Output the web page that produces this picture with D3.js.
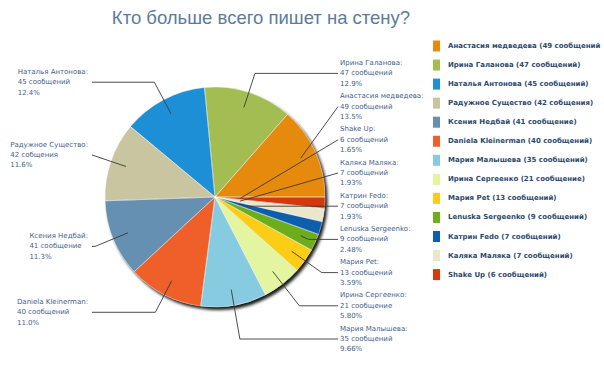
<!DOCTYPE html>
<html><head><meta charset="utf-8">
<script src="https://cdn.jsdelivr.net/npm/d3@7"></script>
<style>body{margin:0;background:#fff}svg{display:block}</style>
</head><body>
<script>
const names = ["Анастасия медведева","Ирина Галанова","Наталья Антонова","Радужное Существо","Ксения Недбай","Daniela Kleinerman","Мария Малышева","Ирина Сергеенко","Мария Pet","Lenuska Sergeenko","Катрин Fedo","Каляка Маляка","Shake Up"];
const values = [49,47,45,42,41,40,35,21,13,9,7,7,6];
const countWords = ["сообщений","сообщений","сообщений","собщения","сообщение","сообщений","сообщений","сообщение","сообщений","сообщений","сообщений","сообщений","сообщений"];
const pctLabels = ["13.5%","12.9%","12.4%","11.6%","11.3%","11.0%","9.66%","5.80%","3.59%","2.48%","1.93%","1.93%","1.65%"];
const legendLabels = ["Анастасия медведева (49 сообщений","Ирина Галанова (47 сообщений)","Наталья Антонова (45 сообщений)","Радужное Существо (42 собщения)","Ксения Недбай (41 сообщение)","Daniela Kleinerman (40 сообщений)","Мария Малышева (35 сообщений)","Ирина Сергеенко (21 сообщение)","Мария Pet (13 сообщений)","Lenuska Sergeenko (9 сообщений)","Катрин Fedo (7 сообщений)","Каляка Маляка (7 сообщений)","Shake Up (6 сообщений)"];
const colors = ["#e68a0c","#a3bd52","#1f8fd6","#c9c5a0","#6690b1","#ef5f29","#87cbe1","#e3f5a1","#fccd16","#6dad1e","#0b5fae","#ebe7cd","#d5390d"];
const title = "Кто больше всего пишет на стену?";

const W = 604, H = 378, cx = 215, cy = 197, R = 110;
const total = d3.sum(values);
const svg = d3.select("body").append("svg").attr("width", W).attr("height", H);

const defs = svg.append("defs");
const f = defs.append("filter").attr("id","sh").attr("x","-20%").attr("y","-20%").attr("width","140%").attr("height","140%");
f.append("feDropShadow").attr("dx",2.5).attr("dy",3).attr("stdDeviation",1.5).attr("flood-color","#000").attr("flood-opacity",0.9);

svg.append("text").attr("x", 261).attr("y", 17).attr("text-anchor","middle").attr("dominant-baseline","central")
  .attr("font-family","'Liberation Sans', Arial, sans-serif").attr("font-size",18.5).attr("fill","#5c7b9c").text(title);

const data = values.map((v,i)=>({name:names[i], value:v, word:countWords[i], pct:pctLabels[i], color:colors[i], frac:v/total}));
const pie = d3.pie().sort(null).value(d=>d.value).startAngle(Math.PI/2).endAngle(Math.PI/2 - 2*Math.PI);
const arcs = pie(data);
const arc = d3.arc().innerRadius(0).outerRadius(R);

const g = svg.append("g").attr("transform",`translate(${cx},${cy})`);
g.append("g").attr("filter","url(#sh)").selectAll("path").data(arcs).join("path")
  .attr("d", arc).attr("fill", d=>d.data.color);
g.append("g").selectAll("path").data(arcs).join("path")
  .attr("d", arc).attr("fill","none").attr("stroke","rgba(255,255,255,0.5)").attr("stroke-width",0.8);

// labels
const labelFont = "'DejaVu Sans', Verdana, sans-serif";
const gap = 33.2, bottom = 339, lineH = 10.4;
const items = arcs.map(a=>{
  const m = (a.startAngle + a.endAngle)/2;
  const ux = Math.sin(m), uy = -Math.cos(m);
  const rp = a.data.frac < 0.02 ? 0.23*R : 0.855*R;
  return {a, ux, uy, right: ux > 0, px: cx + rp*ux, py: cy + rp*uy, y: cy + 1.18*R*uy};
});
function layout(list){
  list.sort((p,q)=>p.y-q.y);
  for(let i=1;i<list.length;i++) list[i].y = Math.max(list[i].y, list[i-1].y+gap);
  if(list.length){ list[list.length-1].y = Math.min(list[list.length-1].y, bottom);
  for(let i=list.length-2;i>=0;i--) list[i].y = Math.min(list[i].y, list[i+1].y-gap); }
}
layout(items.filter(d=>d.right));
layout(items.filter(d=>!d.right));

const lg = svg.append("g");
items.forEach(d=>{
  const Lx = d.right ? 338 : 92, Ly = d.y;
  let pts = [[d.px,d.py]];
  if (Math.abs(d.uy) > 1e-3) {
    const t = (Ly - d.py)/d.uy;
    const ex = d.px + t*d.ux;
    if (t > 0 && (d.right ? ex <= Lx-2 : ex >= Lx+2)) pts.push([ex, Ly]);
  }
  pts.push([Lx, Ly]);
  lg.append("path").attr("d", d3.line()(pts)).attr("fill","none").attr("stroke","#3a3a3a").attr("stroke-width",0.9);
  const lines = [d.a.data.name + ":", d.a.data.value + " " + d.a.data.word, d.a.data.pct];
  const tg = lg.append("g");
  const ts = lines.map((s,i)=> tg.append("text").attr("y", Ly + (i-1)*lineH).attr("dominant-baseline","central")
     .attr("font-family",labelFont).attr("font-size",7).attr("fill","#3f628c").text(s));
  if (d.right) ts.forEach(t=>t.attr("x",340));
  else {
    const mw = d3.max(ts, t=>t.node().getComputedTextLength());
    ts.forEach(t=>t.attr("x", 88 - mw));
  }
});

// legend
const leg = svg.append("g");
legendLabels.forEach((s,i)=>{
  const y = 46 + i*19.05;
  leg.append("rect").attr("x",433).attr("y",y-5.5).attr("width",7).attr("height",11).attr("fill",colors[i]);
  leg.append("text").attr("x",448).attr("y",y).attr("dominant-baseline","central")
    .attr("font-family",labelFont).attr("font-weight","bold").attr("font-size",7).attr("fill","#2d4a6e").text(s);
});
</script>
</body></html>
